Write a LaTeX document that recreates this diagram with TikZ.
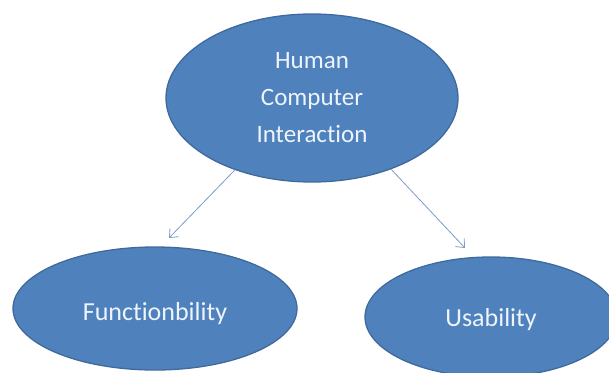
\documentclass[tikz,border=0pt]{standalone}
\usepackage{fontspec}
\setmainfont[Ligatures=NoCommon]{Carlito}
\usetikzlibrary{shapes.geometric,arrows.meta}
\definecolor{ovalfill}{HTML}{4F81BD}
\definecolor{ovalline}{HTML}{3F6A9C}
\definecolor{arrowcol}{HTML}{7F9CC4}
\definecolor{txt}{HTML}{EEF4FB}
\tikzset{
  oval/.style={ellipse, fill=ovalfill, draw=ovalline, line width=1.3pt, inner sep=0pt, text=txt, align=center},
  arr/.style={draw=arrowcol, line width=0.8pt, -{Straight Barb[length=7pt,width=12pt]}}
}
\begin{document}
\begin{tikzpicture}[x=1pt,y=1pt]
\useasboundingbox (0,0) rectangle (609,-372);
\node[oval, minimum width=292pt, minimum height=168pt, font=\fontsize{25}{37}\selectfont] (top) at (312,-98) {Human\\Computer\\Interaction};
\node[oval, minimum width=284pt, minimum height=123pt, font=\fontsize{26}{31}\selectfont, text height=28pt, text depth=5pt] (func) at (155,-308.5) {Functionbility};
\node[oval, minimum width=252pt, minimum height=120pt, font=\fontsize{26}{31}\selectfont, text height=23pt, text depth=5pt] (usab) at (491,-317) {Usability};
\coordinate (ftip) at (169,-238);
\coordinate (utip) at (465,-248);
\draw[arr] (top.223.5) -- (ftip);
\draw[arr] (top.-42.3) -- (utip);
\end{tikzpicture}
\end{document}
